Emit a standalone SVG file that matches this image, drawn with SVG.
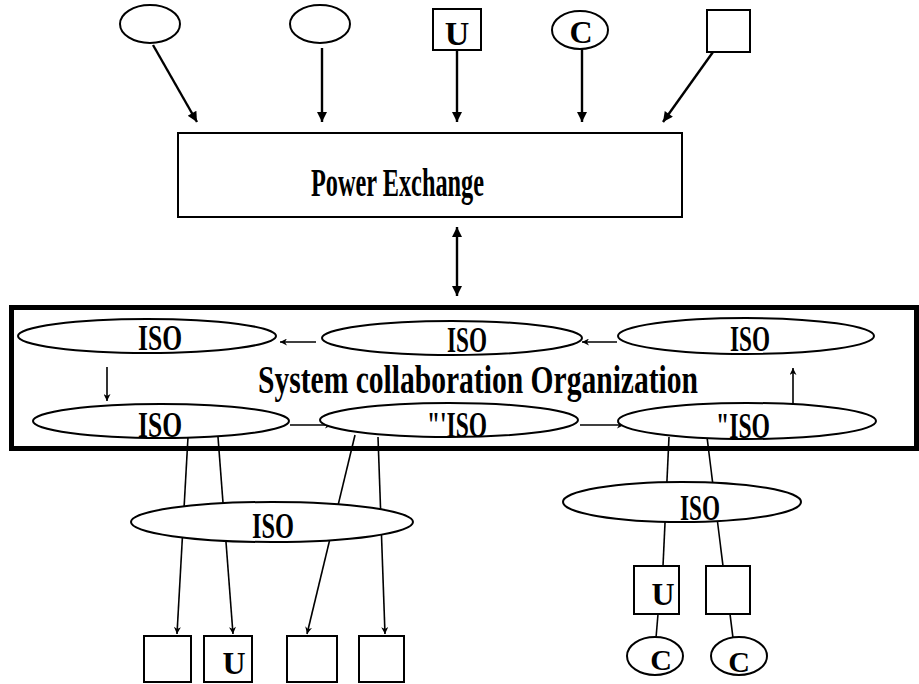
<svg xmlns="http://www.w3.org/2000/svg" width="919" height="684" viewBox="0 0 919 684">
<defs>
<style>
.shape{fill:#fff;stroke:#000;stroke-width:2}
.t{font-family:"Liberation Serif","Times New Roman",serif;font-weight:bold;fill:#000}
.c{stroke:#000;fill:none}
.big{stroke-width:2.4}
.sm{stroke-width:1.6}
</style>
<marker id="ah" viewBox="0 0 10 10" refX="10" refY="5" markerWidth="15" markerHeight="10" orient="auto-start-reverse" markerUnits="userSpaceOnUse"><path d="M0,0 L10,5 L0,10 z" fill="#000"/></marker>
<marker id="as" viewBox="0 0 10 10" refX="10" refY="5" markerWidth="10" markerHeight="7" orient="auto" markerUnits="userSpaceOnUse"><path d="M0,0 L10,5 L0,10 L3,5 z" fill="#000"/></marker>
</defs>
<rect width="919" height="684" fill="#fff"/>

<g id="connectors">
<line class="c big" x1="153" y1="45" x2="197" y2="122" marker-end="url(#ah)"/>
<line class="c big" x1="322" y1="48" x2="322" y2="122" marker-end="url(#ah)"/>
<line class="c big" x1="457" y1="50" x2="457" y2="122" marker-end="url(#ah)"/>
<line class="c big" x1="582" y1="49" x2="582" y2="122" marker-end="url(#ah)"/>
<line class="c big" x1="713" y1="52" x2="663" y2="122" marker-end="url(#ah)"/>
<line class="c big" x1="457" y1="227" x2="457" y2="296" marker-start="url(#ah)" marker-end="url(#ah)"/>
<line class="c sm" x1="316" y1="342" x2="280" y2="342" marker-end="url(#as)"/>
<line class="c sm" x1="617" y1="342" x2="582" y2="342" marker-end="url(#as)"/>
<line class="c sm" x1="107" y1="367" x2="107" y2="401" marker-end="url(#as)"/>
<line class="c sm" x1="793" y1="405" x2="793" y2="368" marker-end="url(#as)"/>
<line class="c sm" x1="290" y1="425" x2="332" y2="425" marker-end="url(#as)"/>
<line class="c sm" x1="580" y1="425" x2="624" y2="425" marker-end="url(#as)"/>
<line class="c sm" x1="188" y1="437" x2="177" y2="634" marker-end="url(#as)"/>
<line class="c sm" x1="218" y1="437" x2="233" y2="634" marker-end="url(#as)"/>
<line class="c sm" x1="355" y1="435" x2="307" y2="634" marker-end="url(#as)"/>
<line class="c sm" x1="378" y1="437" x2="385" y2="634" marker-end="url(#as)"/>
<line class="c sm" x1="669" y1="437" x2="663" y2="566"/>
<line class="c sm" x1="707" y1="437" x2="723" y2="566"/>
<line class="c sm" x1="658" y1="614" x2="656" y2="638"/>
<line class="c sm" x1="730" y1="614" x2="733" y2="638"/>
</g>

<g id="src1"><ellipse class="shape" cx="150" cy="24" rx="30" ry="19"/></g>
<g id="src2"><ellipse class="shape" cx="320" cy="24" rx="30" ry="19"/></g>
<g id="srcU"><rect class="shape" x="433" y="9" width="48" height="41"/><text class="t" x="457" y="45" font-size="34" text-anchor="middle">U</text></g>
<g id="srcC"><ellipse class="shape" cx="580" cy="30" rx="28" ry="19"/><text class="t" x="581" y="43" font-size="32" text-anchor="middle">C</text></g>
<g id="srcBox"><rect class="shape" x="707" y="10" width="43" height="42"/></g>

<g id="powerExchange"><rect class="shape" x="178" y="133" width="504" height="84"/><text class="t" x="311" y="196" font-size="41" textLength="173" lengthAdjust="spacingAndGlyphs">Power Exchange</text></g>

<g id="sco">
<rect x="11.5" y="307.5" width="905" height="141" fill="none" stroke="#000" stroke-width="5"/>
<text class="t" x="258" y="393" font-size="40" textLength="440" lengthAdjust="spacingAndGlyphs">System collaboration Organization</text>
</g>

<g id="isoTL"><ellipse class="shape" cx="147" cy="336" rx="129" ry="17"/><text class="t" x="138" y="350" font-size="36" textLength="44" lengthAdjust="spacingAndGlyphs">ISO</text></g>
<g id="isoTM"><ellipse class="shape" cx="452" cy="338" rx="130" ry="17"/><text class="t" x="447" y="352" font-size="35" textLength="40" lengthAdjust="spacingAndGlyphs">ISO</text></g>
<g id="isoTR"><ellipse class="shape" cx="746" cy="336" rx="128" ry="18"/><text class="t" x="730" y="351" font-size="36" textLength="40" lengthAdjust="spacingAndGlyphs">ISO</text></g>
<g id="isoBL"><ellipse class="shape" cx="161" cy="421" rx="128" ry="17"/><text class="t" x="138" y="437" font-size="36" textLength="44" lengthAdjust="spacingAndGlyphs">ISO</text></g>
<g id="isoBM"><ellipse class="shape" cx="449" cy="420" rx="129" ry="17"/><text class="t" x="427" y="437" font-size="36" textLength="60" lengthAdjust="spacingAndGlyphs">"'ISO</text></g>
<g id="isoBR"><ellipse class="shape" cx="747" cy="421" rx="129" ry="18"/><text class="t" x="716" y="438" font-size="36" textLength="54" lengthAdjust="spacingAndGlyphs">"ISO</text></g>

<g id="isoLow"><ellipse class="shape" cx="272" cy="522" rx="141" ry="20"/><text class="t" x="252" y="538" font-size="36" textLength="42" lengthAdjust="spacingAndGlyphs">ISO</text></g>
<g id="isoRight"><ellipse class="shape" cx="682" cy="502" rx="119" ry="20"/><text class="t" x="680" y="520" font-size="36" textLength="40" lengthAdjust="spacingAndGlyphs">ISO</text></g>

<g id="box1"><rect class="shape" x="144" y="636" width="47" height="46"/></g>
<g id="box2"><rect class="shape" x="204" y="636" width="48" height="46"/><text class="t" x="234" y="674" font-size="32" text-anchor="middle">U</text></g>
<g id="box3"><rect class="shape" x="287" y="636" width="50" height="46"/></g>
<g id="box4"><rect class="shape" x="359" y="636" width="45" height="46"/></g>

<g id="boxU2"><rect class="shape" x="634" y="566" width="45" height="48"/><text class="t" x="663" y="605" font-size="32" text-anchor="middle">U</text></g>
<g id="boxE2"><rect class="shape" x="706" y="566" width="44" height="48"/></g>
<g id="c1"><ellipse class="shape" cx="655" cy="656" rx="28" ry="19"/><text class="t" x="661" y="670" font-size="30" text-anchor="middle">C</text></g>
<g id="c2"><ellipse class="shape" cx="739" cy="656" rx="28" ry="19"/><text class="t" x="739" y="672" font-size="30" text-anchor="middle">C</text></g>
</svg>
